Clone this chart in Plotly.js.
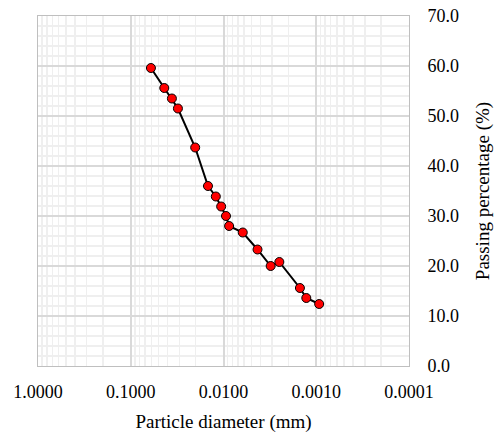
<!DOCTYPE html>
<html>
<head>
<meta charset="utf-8">
<script src="https://cdn.plot.ly/plotly-3.0.1.min.js"></script>
<style>html,body{margin:0;padding:0;background:#fff;}#chart{width:494px;height:434px;}</style>
</head>
<body>
<div id="chart"></div>
<script>
const diameter = [0.0606, 0.0435, 0.0360, 0.0310, 0.0202, 0.0147, 0.0121, 0.0106, 0.0094, 0.0087, 0.0062, 0.0043, 0.0031, 0.0025, 0.0015, 0.00128, 0.00093];
const passing = [59.6, 55.6, 53.5, 51.5, 43.7, 36.0, 33.9, 31.9, 30.0, 28.0, 26.7, 23.3, 20.0, 20.8, 15.6, 13.6, 12.4];
const xTickVals = [1, 0.1, 0.01, 0.001, 0.0001];
const xTickText = ['1.0000', '0.1000', '0.0100', '0.0010', '0.0001'];

const minorX = [];
for (let e = 0; e >= -4; e--) {
  for (let k = 2; k <= 9; k++) {
    const v = k * Math.pow(10, e - 1);
    if (v >= 0.0001 && v <= 1) minorX.push(v);
  }
}

const fam = '"Liberation Serif", "Times New Roman", serif';
const tickFont = {family: fam, size: 18, color: '#000'};
const titleFont = {family: fam, size: 19, color: '#000'};

Plotly.newPlot('chart', [{
  x: diameter,
  y: passing,
  type: 'scatter',
  mode: 'lines+markers',
  line: {color: '#000', width: 2},
  marker: {color: '#ff0000', size: 9, line: {color: '#000', width: 1}},
  showlegend: false
}], {
  width: 494, height: 434,
  margin: {l: 38, r: 85, t: 16, b: 68},
  paper_bgcolor: '#fff', plot_bgcolor: '#fff',
  font: tickFont,
  xaxis: {
    type: 'log', range: [0, -4],
    tickmode: 'array', tickvals: xTickVals, ticktext: xTickText,
    tickfont: tickFont,
    showgrid: true, gridcolor: '#d9d9d9', gridwidth: 2,
    minor: {tickmode: 'array', tickvals: minorX, showgrid: true, gridcolor: '#efefef', gridwidth: 1.5, ticks: ''},
    showline: true, linecolor: '#bfbfbf', linewidth: 1, mirror: true,
    ticks: '', ticklabelstandoff: 9,
    zeroline: false,
    title: {text: 'Particle diameter (mm)', font: titleFont, standoff: 14}
  },
  yaxis: {
    side: 'right', range: [0, 70], dtick: 10, tickformat: '.1f',
    tickfont: tickFont,
    showgrid: true, gridcolor: '#d9d9d9', gridwidth: 2,
    minor: {dtick: 2, showgrid: true, gridcolor: '#efefef', gridwidth: 1.5, ticks: ''},
    showline: true, linecolor: '#bfbfbf', linewidth: 1, mirror: true,
    ticks: '', ticklabelstandoff: 14,
    zeroline: false,
    title: {text: 'Passing percentage (%)', font: titleFont, standoff: 17}
  }
}, {displayModeBar: false, staticPlot: true});
</script>
</body>
</html>
